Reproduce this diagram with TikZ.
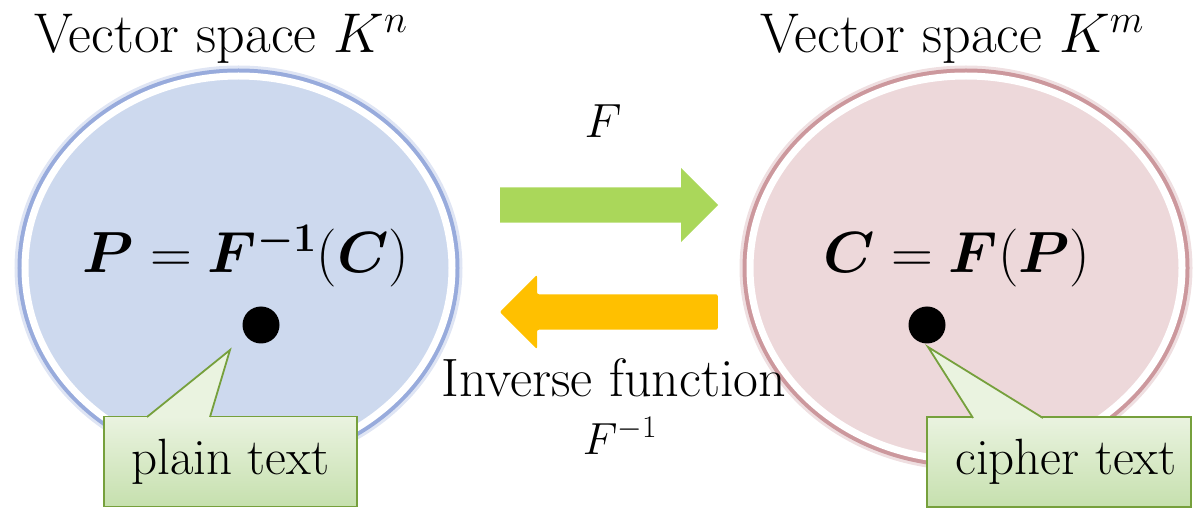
\RequirePackage{fix-cm}
\documentclass[tikz,border=0pt]{standalone}
\usepackage{amsmath}
\usepackage{bm}
\usepackage{tikz}
\usetikzlibrary{shapes.geometric,shapes.arrows,positioning,calc}

\definecolor{spaceblue}{RGB}{205,217,238}
\definecolor{glowblue}{RGB}{128,152,212}
\definecolor{spacepink}{RGB}{237,216,218}
\definecolor{glowpink}{RGB}{192,128,134}
\definecolor{fwdgreen}{RGB}{170,215,90}
\definecolor{bwdorange}{RGB}{255,192,0}
\definecolor{noteline}{RGB}{118,160,60}
\definecolor{notetop}{RGB}{234,243,224}
\definecolor{notebot}{RGB}{198,224,174}

\begin{document}
\begin{tikzpicture}[x=1pt, y=-1pt,
        space/.style={ellipse, draw=white, line width=7pt, inner sep=0pt,
                      minimum width=#1, minimum height=384pt},
        blueglow/.style={preaction={draw=glowblue, line width=21pt, opacity=.25},
                         preaction={draw=glowblue, line width=15pt, opacity=.75}},
        pinkglow/.style={preaction={draw=glowpink, line width=21pt, opacity=.25},
                         preaction={draw=glowpink, line width=15pt, opacity=.75}},
        title/.style={font=\fontsize{56}{66}\selectfont, anchor=base},
        lbl/.style={font=\fontsize{54}{62}\selectfont, anchor=base, inner sep=1pt},
        maplbl/.style={font=\fontsize{#1}{#1}\selectfont, anchor=base, inner sep=1pt},
        formula/.style={font=\fontsize{58}{68}\selectfont, anchor=base},
        elem/.style={circle, fill=black, inner sep=0pt, minimum size=37pt},
        blockarr/.style={single arrow, inner xsep=0pt, inner ysep=17.5pt,
                         single arrow head extend=19.5pt, minimum height=218pt},
        notebox/.style={rectangle, draw=noteline, line width=1.8pt,
                        top color=notetop, bottom color=notebot,
                        minimum height=90pt, font=\fontsize{51}{60}\selectfont},
        pointer/.style={draw=noteline, line width=1.8pt, line join=miter}]
    \useasboundingbox (0,0) rectangle (1194,510);
    % the two spaces
    \node[space=427pt, fill=spaceblue, blueglow] (kn) at (238.5,268) {};
    \node[space=432pt, fill=spacepink, pinkglow] (km) at (966,268) {};
    \node[title] (knname) at (221,53) {Vector space $K^n$};
    \node[title] (kmname) at (952,53) {Vector space $K^m$};
    % formulas and elements
    \node[formula] (pform) at (246,273) {$\bm{P}=\bm{F}^{\bm{-1}}(\bm{C})$};
    \node[formula] (cform) at (957,273) {$\bm{C}=\bm{F}(\bm{P})$};
    \node[elem] (pdot) at (261,325) {};
    \node[elem] (cdot) at (927,325) {};
    % maps between the spaces
    \node[blockarr, fill=fwdgreen, anchor=tail] (fwd) at (500,205) {};
    \node[blockarr, fill=bwdorange, shape border rotate=180,
          rounded corners=2pt, anchor=tail] (bwd) at (718,312) {};
    \node[maplbl=48] (fname) at (603,138) {$F$};
    \node[lbl] (invname) at (614,397) {Inverse function};
    \node[maplbl=45] (finv) at (620,454) {$F^{-1}$};
    % callouts
    \node[notebox, minimum width=253pt] (plain) at (230.5,461.5) {plain text};
    \node[notebox, minimum width=264pt] (cipher) at (1059,462) {\hspace{14pt}cipher text};
    \coordinate (ptip) at ($(pdot)+(-31,25)$);
    \coordinate (ctip) at ($(cdot)+(1,22)$);
    \fill[notetop] (147,418) -- (ptip) -- (210,418) -- cycle;
    \draw[pointer] (147,417) -- (ptip) -- (210,417);
    \fill[notetop] (973,419) -- (ctip) -- (1043,419) -- cycle;
    \draw[pointer] (973,418) -- (ctip) -- (1043,418);
\end{tikzpicture}
\end{document}
